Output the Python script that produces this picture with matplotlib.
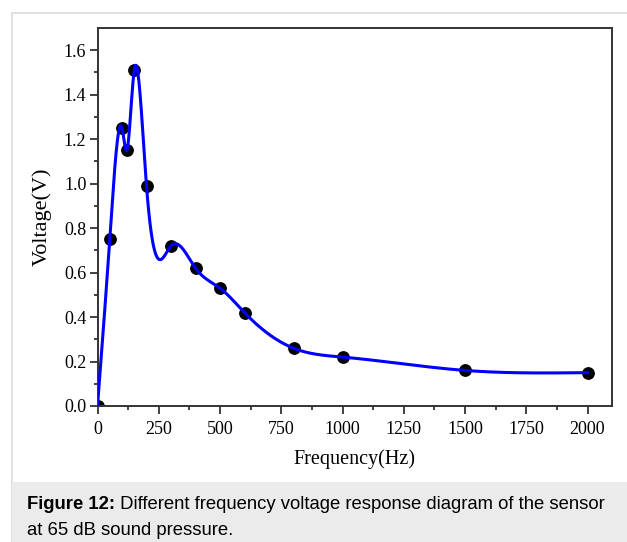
import numpy as np
import matplotlib.pyplot as plt
from matplotlib.patches import Rectangle

# Measured points
FREQ = [0, 50, 100, 120, 150, 200, 300, 400, 500, 600, 800, 1000, 1500, 2000]
VOLT = [0.0, 0.75, 1.25, 1.15, 1.51, 0.99, 0.72, 0.62, 0.53, 0.42, 0.26, 0.22, 0.16, 0.15]
X_TICKS = [0, 250, 500, 750, 1000, 1250, 1500, 1750, 2000]
Y_TICKS = [0.0, 0.2, 0.4, 0.6, 0.8, 1.0, 1.2, 1.4, 1.6]
CAPTION_BOLD = "Figure 12:"
CAPTION_REST = " Different frequency voltage response diagram of the sensor"
CAPTION_LINE2 = "at 65 dB sound pressure."

W, H = 627, 542


def natural_spline(x, y, xs):
    # natural cubic spline through the points
    x = np.asarray(x, float)
    y = np.asarray(y, float)
    n = len(x)
    h = np.diff(x)
    A = np.zeros((n, n))
    r = np.zeros(n)
    A[0, 0] = A[-1, -1] = 1
    for i in range(1, n - 1):
        A[i, i - 1] = h[i - 1]
        A[i, i] = 2 * (h[i - 1] + h[i])
        A[i, i + 1] = h[i]
        r[i] = 3 * ((y[i + 1] - y[i]) / h[i] - (y[i] - y[i - 1]) / h[i - 1])
    c = np.linalg.solve(A, r)
    b = (y[1:] - y[:-1]) / h - h * (2 * c[:-1] + c[1:]) / 3
    d = (c[1:] - c[:-1]) / (3 * h)
    idx = np.clip(np.searchsorted(x, xs) - 1, 0, n - 2)
    dx = xs - x[idx]
    return y[idx] + b[idx] * dx + c[idx] * dx ** 2 + d[idx] * dx ** 3


fig = plt.figure(figsize=(W / 100, H / 100), dpi=100)

# page frame and caption box
fig.add_artist(Rectangle((11.5 / W, -0.1), 1.2, 1 - 12.5 / H + 0.1, transform=fig.transFigure,
                         facecolor='white', edgecolor='#dcdcdc', linewidth=1.2, zorder=-2))
fig.add_artist(Rectangle((12 / W, 0), 1, 1 - 482 / H, transform=fig.transFigure,
                         facecolor='#ebebeb', edgecolor='none', zorder=-1))

ax = fig.add_axes([97.5 / W, 1 - 406 / H, (612 - 97.5) / W, (406 - 28) / H])

xs = np.linspace(0, 2000, 1500)
ax.plot(xs, natural_spline(FREQ, VOLT, xs), color='#0000ff', linewidth=2.2, zorder=3)
ax.plot(FREQ, VOLT, 'o', color='black', markersize=8.2, zorder=2)

ax.set_xlim(0, 2100)
ax.set_ylim(0, 1.7)
ax.set_xticks(X_TICKS)
ax.set_yticks(Y_TICKS)
ax.set_xticks(np.arange(125, 2100, 250), minor=True)
ax.set_yticks(np.arange(0.1, 1.7, 0.2), minor=True)
ax.set_yticklabels([f'{v:.1f}' for v in Y_TICKS])

serif = 'Liberation Serif'
for lab in ax.get_xticklabels() + ax.get_yticklabels():
    lab.set_fontfamily(serif)
    lab.set_fontsize(13)
ax.tick_params(which='major', direction='out', length=5.5, width=1.2, color='#222222')
ax.tick_params(which='minor', direction='out', length=3, width=1.2, color='#222222')
ax.tick_params(axis='x', which='major', pad=5.5)
ax.tick_params(axis='y', which='major', pad=2.5)
for s in ax.spines.values():
    s.set_linewidth(1.4)
    s.set_color('#333333')

ax.set_xlabel('Frequency(Hz)', fontfamily=serif, fontsize=14.5, labelpad=8)
ax.set_ylabel('Voltage(V)', fontfamily=serif, fontsize=16, labelpad=9)

cap_fs = 13.3
t = fig.text(27 / W, 1 - 509 / H, CAPTION_BOLD, fontfamily='Liberation Sans', fontweight='bold',
             fontsize=cap_fs, va='baseline')
fig.canvas.draw()
bb = t.get_window_extent()
fig.text(bb.x1 / W, 1 - 509 / H, CAPTION_REST, fontfamily='Liberation Sans',
         fontsize=cap_fs, va='baseline')
fig.text(27 / W, 1 - 535 / H, CAPTION_LINE2, fontfamily='Liberation Sans',
         fontsize=cap_fs, va='baseline')

fig.savefig('out.png', dpi=100)
